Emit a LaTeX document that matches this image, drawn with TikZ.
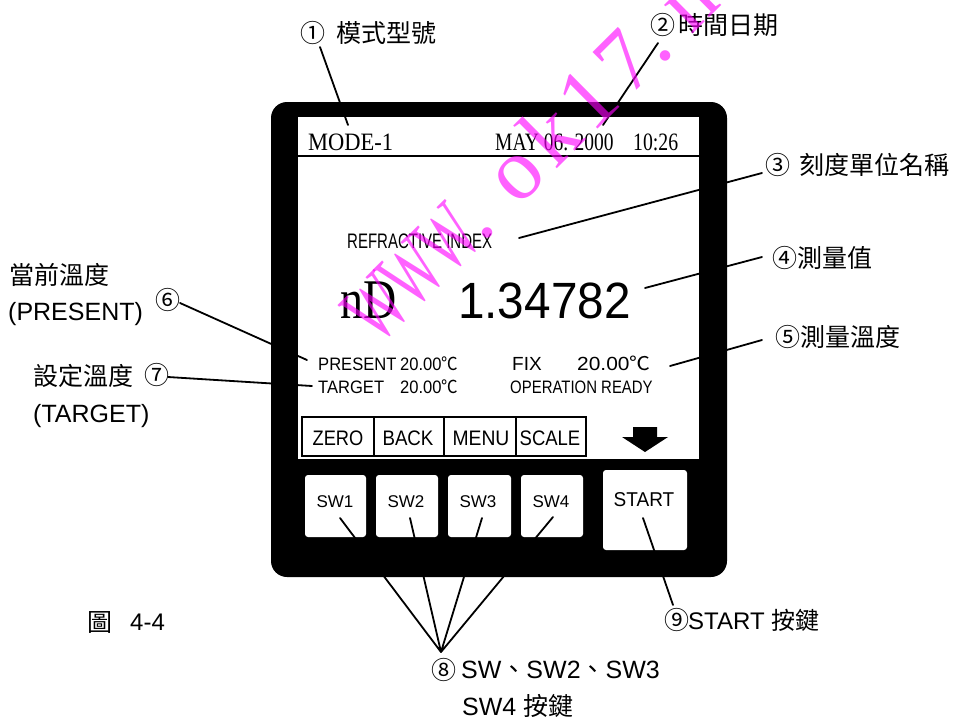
\documentclass[tikz,border=0pt]{standalone}
\usepackage{fontspec}
\usepackage{graphicx}
\setmainfont{Liberation Sans}
\newfontfamily\cjk{Noto Sans CJK TC}
\newfontfamily\tms{Liberation Serif}
\newcommand\zh[1]{{\cjk #1}}
\newcommand\nar[2]{\scalebox{#1}[1]{#2}}
\newcommand\fs[1]{\fontsize{#1}{#1}\selectfont}
\definecolor{wmcol}{RGB}{255,0,255}
\begin{document}
\begin{tikzpicture}[x=1pt,y=-1pt,
  txt/.style={inner sep=0pt, anchor=base west},
  ctxt/.style={inner sep=0pt, anchor=base},
  lbl/.style={inner sep=0pt, anchor=west, font=\cjk\fs{25}},
  circ/.style={inner sep=0pt, font=\cjk\fs{25}},
  lead/.style={line width=1.8pt, line cap=round},
  thin/.style={line width=1.3pt},
  key/.style={fill=white, rounded corners=3pt},
  wm/.style={inner sep=0pt, anchor=base, rotate=44.8, text=wmcol, opacity=0.62, font=\tms\fs{88}}]
\useasboundingbox (0,0) rectangle (955,720);
\clip (0,0) rectangle (955,720);
\fill[white] (0,0) rectangle (955,720);
% device frame
\fill[black, rounded corners=16pt] (271,102) rectangle (727,577);
\fill[white] (298,117) rectangle (699,459);
\draw[line width=1.5pt] (298,156) -- (699,156);
% header
\node[txt, font=\tms\fs{25}] (mode) at (308,150) {\nar{0.9}{MODE-1}};
\node[txt, font=\tms\fs{25}] (date) at (495,150) {\nar{0.78}{MAY 06. 2000}};
\node[txt, font=\tms\fs{25}] (time) at (633,150) {\nar{0.79}{10:26}};
% main reading
\node[txt, font=\fs{21}] (ri) at (347,248) {\nar{0.714}{REFRACTIVE INDEX}};
\node[txt, font=\tms\fs{56}] (nd) at (340,318) {\nar{0.82}{nD}};
\node[txt, font=\fs{51}] (val) at (458,318) {\nar{0.935}{1.34782}};
% temperatures
\node[txt, font=\fs{18}] (pres) at (318,370) {\nar{0.92}{PRESENT}};
\node[txt, font=\fs{18}] (presv) at (400,370) {\nar{0.92}{20.00\zh{℃}}};
\node[txt, font=\fs{18}] (targ) at (318,393) {\nar{0.92}{TARGET}};
\node[txt, font=\fs{18}] (targv) at (400,393) {\nar{0.92}{20.00\zh{℃}}};
\node[txt, font=\fs{19}] (fix) at (512,370) {FIX};
\node[txt, font=\fs{19}] (fixv) at (577,370) {\nar{1.1}{20.00\zh{℃}}};
\node[txt, font=\fs{18}] (opr) at (510,393) {\nar{0.83}{OPERATION READY}};
% soft keys
\draw[thin] (302,417) rectangle (586,456);
\draw[thin] (374,417) -- (374,456) (444,417) -- (444,456) (516,417) -- (516,456);
\node[ctxt, font=\fs{21}] (kz) at (338,445) {\nar{0.87}{ZERO}};
\node[ctxt, font=\fs{21}] (kb) at (408,445) {\nar{0.89}{BACK}};
\node[ctxt, font=\fs{21}] (km) at (481,445) {\nar{0.92}{MENU}};
\node[ctxt, font=\fs{21}] (ks) at (550,445) {\nar{0.88}{SCALE}};
\fill (633,427) -- (657,427) -- (657,437) -- (668,437) -- (645,452) -- (622,437) -- (633,437) -- cycle;
% hard keys
\fill[key] (305,475) rectangle (366,537);
\fill[key] (376,475) rectangle (438,537);
\fill[key] (448,475) rectangle (511,537);
\fill[key] (521,475) rectangle (583,537);
\fill[key] (603,470) rectangle (687,550);
\node[ctxt, font=\fs{17}] (sw1) at (335,507) {SW1};
\node[ctxt, font=\fs{17}] (sw2) at (406,507) {SW2};
\node[ctxt, font=\fs{17}] (sw3) at (478,507) {SW3};
\node[ctxt, font=\fs{17}] (sw4) at (551,507) {SW4};
\node[ctxt, font=\fs{20}] (st) at (644,506) {\nar{0.95}{START}};
% callout labels
\node[circ] (c1) at (312.5,33) {①};
\node[lbl] (t1) at (336,33) {模式型號};
\node[circ] (c2) at (662.5,25) {②};
\node[lbl] (t2) at (678,25) {時間日期};
\node[circ] (c3) at (778,165) {③};
\node[lbl] (t3) at (799,165) {刻度單位名稱};
\node[circ] (c4) at (785,258) {④};
\node[lbl] (t4) at (797,258) {測量值};
\node[circ] (c5) at (788,337) {⑤};
\node[lbl] (t5) at (800,337) {測量溫度};
\node[lbl] (t6a) at (9,275) {當前溫度};
\node[lbl, font=\fs{25}] (t6b) at (8,314) {(PRESENT)};
\node[circ] (c6) at (168,300) {⑥};
\node[lbl] (t7a) at (33,376) {設定溫度};
\node[circ] (c7) at (157,375) {⑦};
\node[lbl, font=\fs{25}] (t7b) at (33,416) {(TARGET)};
\node[lbl] (fig) at (87,622) {圖};
\node[lbl, font=\fs{24}] (fign) at (130,622) {4-4};
\node[circ] (c9) at (676.5,620) {⑨};
\node[lbl, font=\fs{24}] (t9) at (688,620) {START \zh{按鍵}};
\node[circ] (c8) at (443.5,670) {⑧};
\node[lbl, font=\fs{25}] (t8a) at (461,670) {SW\zh{、}SW2\zh{、}SW3};
\node[lbl, font=\fs{25}] (t8b) at (462,706) {SW4 \zh{按鍵}};
% leader end points
\coordinate (e1a) at (320,47);   \coordinate (e1b) at (348,125);
\coordinate (e2a) at (658,43);   \coordinate (e2b) at (603,125);
\coordinate (e3a) at (762,173);  \coordinate (e3b) at (519,238);
\coordinate (e4a) at (762,257);  \coordinate (e4b) at (645,288);
\coordinate (e5a) at (762,340);  \coordinate (e5b) at (670,366);
\coordinate (e6a) at (180,303);  \coordinate (e6b) at (307,360);
\coordinate (e7a) at (168,377);  \coordinate (e7b) at (312,386);
\coordinate (hub) at (441,652);
\coordinate (s1) at (340,518); \coordinate (s2) at (410,518);
\coordinate (s3) at (482,518); \coordinate (s4) at (553,517);
\coordinate (s5) at (643,518); \coordinate (e9) at (673,605);
\draw[lead] (e1a) -- (e1b);
\draw[lead] (e2a) -- (e2b);
\draw[lead] (e3a) -- (e3b);
\draw[lead] (e4a) -- (e4b);
\draw[lead] (e5a) -- (e5b);
\draw[lead] (e6a) -- (e6b);
\draw[lead] (e7a) -- (e7b);
\draw[lead] (s1) -- (hub) (s2) -- (hub) (s3) -- (hub) (s4) -- (hub);
\draw[lead] (s5) -- (e9);
% watermark, one glyph per node along a 45 degree baseline
\foreach \ch/\t/\sc [count=\i] in {W/25/0.62, W/75/0.62, W/125/0.62, ./157/1, o/219/1, k/271/1, 1/323/1, 7/375/1, ./408/1, n/463/1}
  \node[wm] (wm\i) at ({378.6+0.710*\t},{346.1-0.704*\t}) {\nar{\sc}{\ch}};
\end{tikzpicture}
\end{document}
